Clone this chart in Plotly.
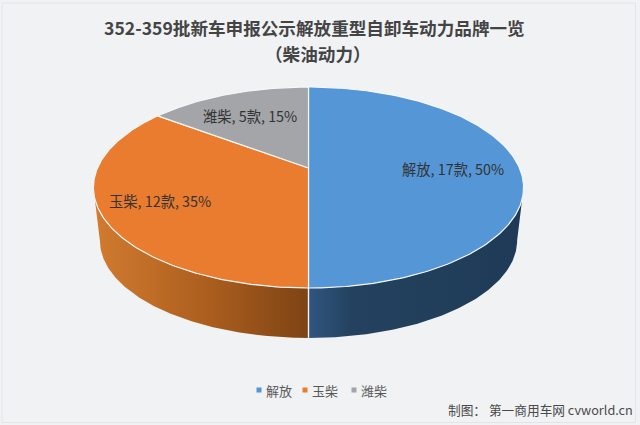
import math
import numpy as np
import plotly.graph_objects as go

names = ["解放", "玉柴", "潍柴"]
counts = [17, 12, 5]
percents = [50, 35, 15]
top_colors = ["#5596D6", "#E97C2E", "#A3A5A8"]
side_scales = [
    [[0, "#2F5680"], [0.2, "#24425F"], [1, "#1E3A56"]],
    [[0, "#D27B30"], [0.5, "#AE601F"], [1, "#7E4314"]],
    [[0, "#77787A"], [1, "#77787A"]],
]
label_xy = [(453, 168), (160, 200), (250, 115)]
legend_x = [259, 305, 354]

W, H = 640, 425
BG = "#F1F2F4"
FONT = "Noto Sans CJK SC"
CX, CY, A, B, K = 308.5, 168, 211, 96.7, 0.194
BOTTOM_SCALE, BOTTOM_Y = 0.97, 221.6


def project(theta, scale=1.0, y0=CY):
    """Clockwise angle from the back of the pie to a tilted, perspective view."""
    u, v = np.sin(theta), -np.cos(theta)
    w = 1 - K * v
    return CX + scale * A * u / w, y0 + scale * B * v / w


fig = go.Figure()
total = sum(counts)
edges = np.cumsum([0] + counts) / total * 2 * math.pi
front_a, front_b = math.acos(-K), 2 * math.pi - math.acos(-K)

# side walls
for i in range(len(names)):
    lo, hi = max(edges[i], front_a), min(edges[i + 1], front_b)
    if hi <= lo:
        continue
    t = np.linspace(lo, hi, 120)
    x1, y1 = project(t)
    x2, y2 = project(t[::-1], BOTTOM_SCALE, BOTTOM_Y)
    fig.add_trace(go.Scatter(
        x=np.r_[x1, x2], y=np.r_[y1, y2], mode="lines", fill="toself",
        line=dict(color="rgba(0,0,0,0)", width=0),
        fillgradient=dict(type="horizontal", colorscale=side_scales[i]),
        showlegend=False, hoverinfo="skip"))

# front seam between walls
sx, sy = project(np.array([math.pi]))
bx, by = project(np.array([math.pi]), BOTTOM_SCALE, BOTTOM_Y)
fig.add_trace(go.Scatter(x=[sx[0], bx[0]], y=[sy[0], by[0]], mode="lines",
                         line=dict(color="#F4F5F6", width=1.4),
                         showlegend=False, hoverinfo="skip"))

# top slices
for i in range(len(names)):
    t = np.linspace(edges[i], edges[i + 1], 200)
    x, y = project(t)
    fig.add_trace(go.Scatter(
        x=np.r_[CX, x, CX], y=np.r_[CY, y, CY], mode="lines", fill="toself",
        fillcolor=top_colors[i], line=dict(color="#F6F7F8", width=1.2),
        showlegend=False, hoverinfo="skip"))

# legend row
for i in range(len(names)):
    fig.add_trace(go.Scatter(
        x=[legend_x[i]], y=[390], mode="markers", name=names[i],
        marker=dict(symbol="square", size=5, color=top_colors[i]),
        showlegend=False, hoverinfo="skip"))
    fig.add_annotation(x=legend_x[i] + 7, y=390, xref="x", yref="y", xanchor="left",
                       showarrow=False, text=names[i], xshift=-2,
                       font=dict(family=FONT, size=13, color="#595959"))

# slice labels
for i in range(len(names)):
    fig.add_annotation(x=label_xy[i][0], y=label_xy[i][1], xref="x", yref="y",
                       text=f"{names[i]}, {counts[i]}款, {percents[i]}%", showarrow=False,
                       font=dict(family=FONT, size=14.3, color="#333333"))

fig.add_annotation(x=314, y=27, xref="x", yref="y", showarrow=False,
                   text="<b>352-359批新车申报公示解放重型自卸车动力品牌一览</b>",
                   font=dict(family=FONT, size=17.6, color="#444444"))
fig.add_annotation(x=318, y=53, xref="x", yref="y", showarrow=False,
                   text="<b>（柴油动力）</b>",
                   font=dict(family=FONT, size=17.6, color="#444444"))
fig.add_annotation(x=635, y=409, xref="x", yref="y", xanchor="right", showarrow=False,
                   text="制图： 第一商用车网 cvworld.cn",
                   font=dict(family=FONT, size=12.7, color="#4A4A4A"))

fig.update_layout(
    width=W, height=H, margin=dict(l=0, r=0, t=0, b=0),
    paper_bgcolor=BG, plot_bgcolor=BG, font=dict(family=FONT),
    xaxis=dict(range=[0, W], visible=False, fixedrange=True),
    yaxis=dict(range=[H, 0], visible=False, fixedrange=True),
    showlegend=False,
    shapes=[dict(type="rect", xref="x", yref="y", x0=2, y0=3, x1=635.5, y1=422.5,
                 line=dict(color="#E3E4E7", width=1), layer="below")],
)
fig.write_html("out.html", config={"displayModeBar": False},
               post_script="document.body.style.margin='0';")
